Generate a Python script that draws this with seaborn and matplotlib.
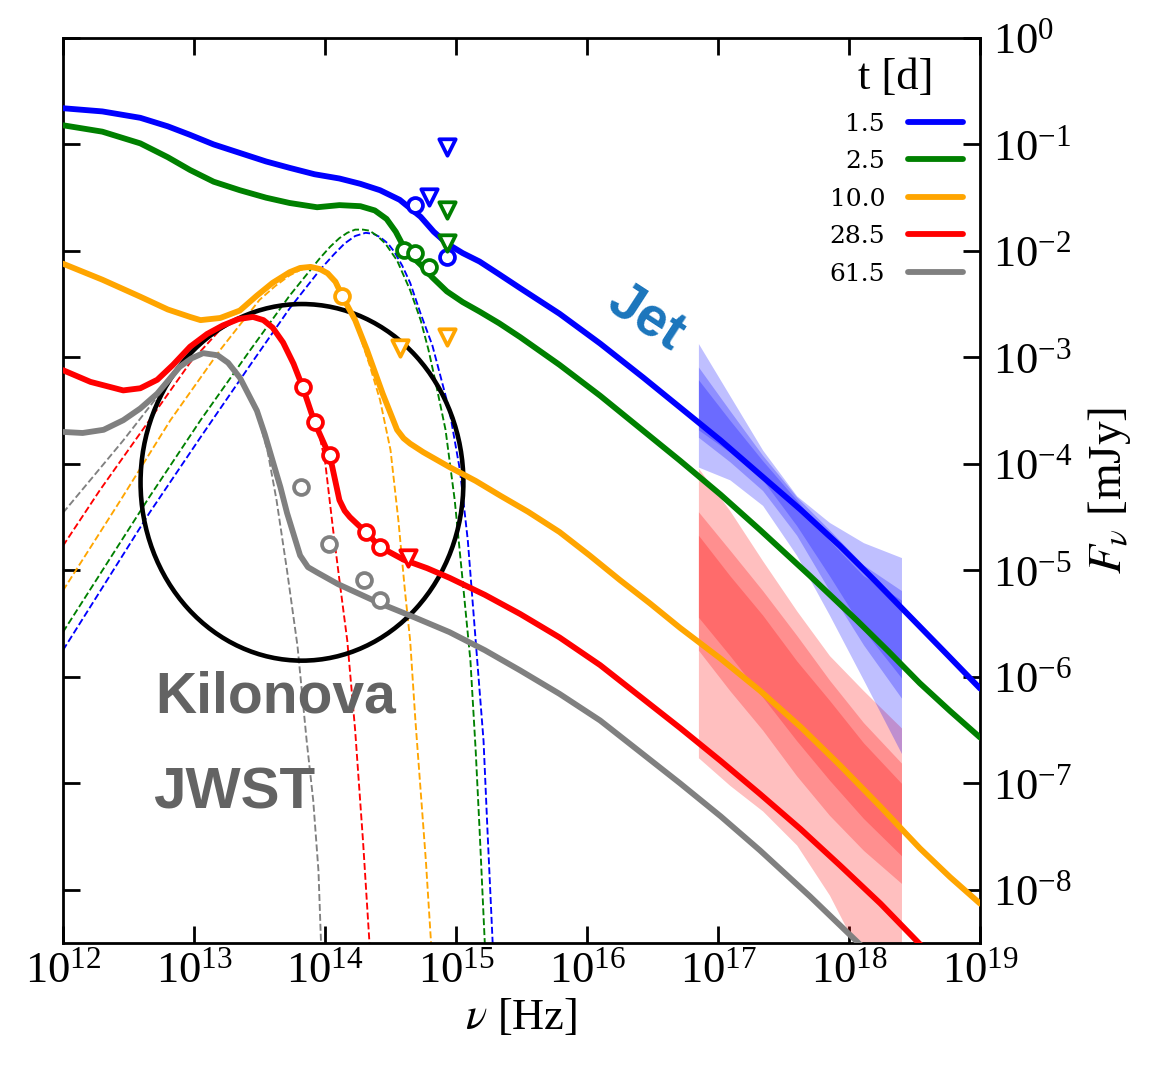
import numpy as np
import matplotlib
matplotlib.use("Agg")
import matplotlib.pyplot as plt
import seaborn as sns
from matplotlib.patches import Ellipse
from matplotlib.lines import Line2D
from matplotlib.ticker import FixedLocator, LogFormatterMathtext, NullLocator

sns.set_theme(style="ticks")
plt.rcParams["font.family"] = ["Liberation Serif", "DejaVu Serif"]
plt.rcParams["mathtext.fontset"] = "stix"
for key in ["text.color", "axes.labelcolor", "xtick.color", "ytick.color", "axes.edgecolor"]:
    plt.rcParams[key] = "black"

EPOCHS = ["1.5", "2.5", "10.0", "28.5", "61.5"]
COLORS = ["blue", "green", "orange", "red", "grey"]

# ---- total model (afterglow + kilonova): log10(nu/Hz), log10(F/mJy) ----
LNU_T15 = [12.00, 12.30, 12.59, 12.80, 12.97, 13.15, 13.35, 13.55, 13.73, 13.92, 14.11, 14.27, 14.42, 14.57, 14.65, 14.73,
           14.83, 14.93, 15.05, 15.18, 15.33, 15.49, 15.79, 16.10, 16.43, 16.71, 17.02, 17.32, 17.63, 17.93, 18.20, 18.47, 18.74, 19.00]
LF_T15 = [-0.66, -0.69, -0.75, -0.83, -0.91, -1.00, -1.08, -1.16, -1.22, -1.28, -1.32, -1.37, -1.43, -1.52, -1.60, -1.68,
          -1.82, -1.93, -2.02, -2.10, -2.22, -2.35, -2.59, -2.87, -3.19, -3.47, -3.78, -4.10, -4.43, -4.77, -5.10, -5.44, -5.78, -6.11]

LNU_T25 = [12.00, 12.30, 12.59, 12.80, 12.97, 13.15, 13.35, 13.55, 13.73, 13.94, 14.11, 14.27, 14.38, 14.47, 14.54, 14.60, 14.67, 14.73,
           14.82, 14.93, 15.05, 15.18, 15.33, 15.49, 15.79, 16.10, 16.40, 16.71, 17.02, 17.32, 17.70, 18.06, 18.30, 18.54, 18.77, 19.00]
LF_T25 = [-0.82, -0.88, -0.99, -1.12, -1.24, -1.35, -1.43, -1.50, -1.55, -1.59, -1.57, -1.58, -1.62, -1.70, -1.82, -1.96, -2.06, -2.13,
          -2.25, -2.38, -2.48, -2.57, -2.68, -2.81, -3.07, -3.36, -3.66, -3.97, -4.29, -4.62, -5.05, -5.47, -5.76, -6.06, -6.32, -6.57]

LNU_T100 = [12.00, 12.30, 12.59, 12.80, 12.97, 13.05, 13.20, 13.35, 13.48, 13.60, 13.73, 13.81, 13.89, 13.96, 14.02, 14.08, 14.13,
            14.23, 14.32, 14.44, 14.55, 14.60, 14.65, 14.75, 14.95, 15.15, 15.34, 15.55, 15.79, 16.02, 16.25, 16.48, 16.71, 17.02,
            17.32, 17.63, 17.93, 18.24, 18.54, 18.77, 19.00]
LF_T100 = [-2.12, -2.27, -2.43, -2.55, -2.62, -2.65, -2.63, -2.56, -2.42, -2.30, -2.20, -2.16, -2.15, -2.17, -2.21, -2.29, -2.42,
           -2.65, -2.93, -3.34, -3.68, -3.76, -3.81, -3.89, -4.03, -4.16, -4.30, -4.45, -4.64, -4.86, -5.09, -5.31, -5.54, -5.83,
           -6.13, -6.47, -6.83, -7.22, -7.61, -7.88, -8.13]

LNU_T285 = [12.00, 12.21, 12.46, 12.59, 12.72, 12.84, 12.97, 13.10, 13.22, 13.34, 13.45, 13.53, 13.60, 13.68, 13.76, 13.83, 13.92,
            14.04, 14.11, 14.15, 14.19, 14.31, 14.42, 14.60, 14.78, 14.95, 15.22, 15.49, 15.79, 16.10, 16.40, 16.71, 17.02, 17.32,
            17.63, 17.93, 18.24, 18.54, 18.77]
LF_T285 = [-3.12, -3.23, -3.31, -3.29, -3.21, -3.07, -2.90, -2.78, -2.70, -2.64, -2.62, -2.65, -2.72, -2.86, -3.06, -3.28, -3.61,
           -3.94, -4.34, -4.44, -4.50, -4.64, -4.78, -4.90, -4.98, -5.07, -5.23, -5.41, -5.63, -5.89, -6.18, -6.48, -6.79, -7.10,
           -7.43, -7.77, -8.13, -8.51, -8.76]

LNU_T615 = [12.00, 12.15, 12.31, 12.46, 12.59, 12.72, 12.89, 12.98, 13.07, 13.18, 13.26, 13.35, 13.48, 13.54, 13.60, 13.66, 13.71,
            13.81, 13.87, 13.94, 14.10, 14.26, 14.42, 14.68, 14.95, 15.22, 15.49, 15.79, 16.10, 16.40, 16.71, 17.02, 17.32, 17.70,
            18.08, 18.24]
LF_T615 = [-3.70, -3.71, -3.68, -3.59, -3.48, -3.34, -3.09, -3.01, -2.96, -2.98, -3.05, -3.19, -3.50, -3.72, -3.97, -4.22, -4.46,
           -4.86, -4.97, -5.02, -5.13, -5.22, -5.31, -5.44, -5.58, -5.75, -5.94, -6.16, -6.41, -6.70, -7.00, -7.31, -7.63, -8.06,
           -8.51, -8.67]

# ---- kilonova component (dashed) ----
LNU_KN15 = [12.00, 12.66, 13.05, 13.43, 13.73, 13.96, 14.07, 14.15, 14.23, 14.31, 14.37, 14.42, 14.48, 14.53, 14.59, 14.65, 14.73,
            14.82, 14.88, 14.95, 15.03, 15.09, 15.15, 15.21, 15.24, 15.28, 15.31]
LF_KN15 = [-5.75, -4.46, -3.75, -3.07, -2.54, -2.18, -2.03, -1.93, -1.86, -1.83, -1.84, -1.87, -1.93, -2.01, -2.14, -2.30, -2.59,
           -2.89, -3.17, -3.50, -4.06, -4.72, -5.66, -6.60, -7.44, -8.51, -9.04]

LNU_KN25 = [12.00, 12.66, 13.05, 13.43, 13.73, 13.96, 14.04, 14.11, 14.17, 14.23, 14.29, 14.34, 14.40, 14.46, 14.55, 14.65, 14.73,
            14.79, 14.84, 14.92, 14.99, 15.05, 15.11, 15.15, 15.18, 15.22, 15.24]
LF_KN25 = [-5.58, -4.31, -3.59, -2.93, -2.42, -2.07, -1.96, -1.88, -1.83, -1.80, -1.80, -1.81, -1.86, -1.93, -2.09, -2.37, -2.65,
           -2.93, -3.21, -3.68, -4.34, -5.09, -5.85, -6.69, -7.44, -8.51, -9.04]

LNU_KN100 = [12.00, 12.44, 12.82, 13.20, 13.50, 13.62, 13.73, 13.81, 13.89, 13.96, 14.04, 14.10, 14.15, 14.24, 14.34, 14.42, 14.50,
             14.56, 14.61, 14.65, 14.69, 14.73, 14.77, 14.81, 14.82]
LF_KN100 = [-5.19, -4.34, -3.59, -2.93, -2.46, -2.33, -2.23, -2.18, -2.16, -2.18, -2.23, -2.31, -2.43, -2.70, -3.07, -3.40, -3.87,
            -4.53, -5.19, -5.66, -6.41, -7.07, -7.73, -8.51, -9.04]

LNU_KN285 = [12.00, 12.28, 12.66, 12.97, 13.20, 13.30, 13.39, 13.49, 13.56, 13.62, 13.69, 13.76, 13.85, 13.94, 14.00, 14.06, 14.11,
             14.17, 14.23, 14.29, 14.34, 14.36]
LF_KN285 = [-4.77, -4.25, -3.59, -3.05, -2.74, -2.67, -2.63, -2.63, -2.67, -2.74, -2.88, -3.07, -3.33, -3.64, -3.97, -4.60, -5.09,
            -5.66, -6.50, -7.54, -8.51, -9.04]

LNU_KN615 = [12.00, 12.21, 12.46, 12.72, 12.89, 12.98, 13.07, 13.18, 13.26, 13.35, 13.48, 13.56, 13.63, 13.71, 13.79, 13.86, 13.91,
             13.95, 13.97, 13.98]
LF_KN615 = [-4.46, -4.15, -3.78, -3.37, -3.09, -3.01, -2.96, -2.99, -3.06, -3.20, -3.52, -3.87, -4.34, -5.00, -5.71, -6.60, -7.16,
            -7.82, -8.51, -9.04]

# ---- photometry: detections (circles) and upper limits (triangles) ----
DET_NU_15 = [14.69, 14.93]
DET_F_15 = [-1.57, -2.06]
UL_NU_15 = [14.79, 14.93]
UL_F_15 = [-1.49, -1.02]

DET_NU_25 = [14.60, 14.69, 14.79]
DET_F_25 = [-1.99, -2.02, -2.15]
UL_NU_25 = [14.93, 14.93]
UL_F_25 = [-1.62, -1.93]

DET_NU_100 = [14.13]
DET_F_100 = [-2.42]
UL_NU_100 = [14.57, 14.93]
UL_F_100 = [-2.91, -2.81]

DET_NU_285 = [13.83, 13.92, 14.04, 14.31, 14.42]
DET_F_285 = [-3.28, -3.61, -3.92, -4.64, -4.78]
UL_NU_285 = [14.63]
UL_F_285 = [-4.88]

DET_NU_615 = [13.82, 14.03, 14.30, 14.42]
DET_F_615 = [-4.22, -4.75, -5.09, -5.28]
UL_NU_615 = []
UL_F_615 = []

# ---- X-ray confidence bands ----
BAND_LNU = [16.85, 17.09, 17.34, 17.60, 17.85, 18.11, 18.40]
XB_OUT_HI = [-2.87, -3.36, -3.87, -4.30, -4.55, -4.74, -4.88]
XB_OUT_LO = [-4.03, -4.15, -4.39, -4.86, -5.42, -6.03, -6.72]
XB_MID_HI = [-3.09, -3.50, -3.92, -4.31, -4.62, -4.95, -5.19]
XB_MID_LO = [-3.75, -3.98, -4.25, -4.67, -5.19, -5.70, -6.20]
XB_IN_HI = [-3.21, -3.59, -3.97, -4.34, -4.72, -5.05, -5.28]
XB_IN_LO = [-3.68, -3.89, -4.15, -4.58, -5.05, -5.56, -6.01]

XR_OUT_HI = [-4.04, -4.44, -4.91, -5.38, -5.80, -6.13, -6.48]
XR_OUT_LO = [-6.76, -7.02, -7.26, -7.58, -8.05, -8.67, -9.04]
XR_MID_HI = [-4.45, -4.81, -5.19, -5.61, -6.03, -6.43, -6.81]
XR_MID_LO = [-5.75, -6.13, -6.50, -6.93, -7.30, -7.63, -7.94]
XR_IN_HI = [-4.67, -5.05, -5.42, -5.85, -6.22, -6.62, -7.00]
XR_IN_LO = [-5.44, -5.80, -6.19, -6.60, -6.97, -7.33, -7.68]

XTICK_EXP = [12, 13, 14, 15, 16, 17, 18, 19]
YTICK_EXP = [0, -1, -2, -3, -4, -5, -6, -7, -8]


def p(v):
    return np.power(10.0, np.asarray(v, dtype=float))


fig = plt.figure(figsize=(11.49, 10.72), dpi=100)
ax = fig.add_axes([0.0548, 0.1203, 0.853 - 0.0548, 0.9646 - 0.1203])
ax.set_xscale("log")
ax.set_yscale("log")

# bands
bx = p(BAND_LNU)
for lo, hi in [(XR_OUT_LO, XR_OUT_HI), (XR_MID_LO, XR_MID_HI), (XR_IN_LO, XR_IN_HI)]:
    ax.fill_between(bx, p(lo), p(hi), color="red", alpha=0.25, lw=0, zorder=1)
for lo, hi in [(XB_OUT_LO, XB_OUT_HI), (XB_MID_LO, XB_MID_HI), (XB_IN_LO, XB_IN_HI)]:
    ax.fill_between(bx, p(lo), p(hi), color="blue", alpha=0.25, lw=0, zorder=1)

kn = [(LNU_KN15, LF_KN15), (LNU_KN25, LF_KN25), (LNU_KN100, LF_KN100),
      (LNU_KN285, LF_KN285), (LNU_KN615, LF_KN615)]
tot = [(LNU_T15, LF_T15), (LNU_T25, LF_T25), (LNU_T100, LF_T100),
       (LNU_T285, LF_T285), (LNU_T615, LF_T615)]
det = [(DET_NU_15, DET_F_15), (DET_NU_25, DET_F_25), (DET_NU_100, DET_F_100),
       (DET_NU_285, DET_F_285), (DET_NU_615, DET_F_615)]
ul = [(UL_NU_15, UL_F_15), (UL_NU_25, UL_F_25), (UL_NU_100, UL_F_100),
      (UL_NU_285, UL_F_285), (UL_NU_615, UL_F_615)]

for (lnu, lf), c in zip(kn, COLORS):
    sns.lineplot(x=p(lnu), y=p(lf), ax=ax, color=c, lw=1.35, ls="--",
                 sort=False, estimator=None, zorder=2)

ell = Ellipse((0.2606, 0.509), 0.352, 0.394, transform=ax.transAxes,
              fill=False, ec="black", lw=3.3, zorder=3)
ax.add_patch(ell)

for (lnu, lf), c in zip(tot, COLORS):
    sns.lineplot(x=p(lnu), y=p(lf), ax=ax, color=c, lw=4.2,
                 sort=False, estimator=None, zorder=4)
for ln in ax.get_lines():
    ln.set_solid_joinstyle("round")

for (lnu, lf), c in zip(det, COLORS):
    if len(lnu):
        sns.scatterplot(x=p(lnu), y=p(lf), ax=ax, marker="o", s=115,
                        facecolor="white", edgecolor=c, linewidth=2.7, zorder=5)
for (lnu, lf), c in zip(ul, COLORS):
    if len(lnu):
        sns.scatterplot(x=p(lnu), y=p(lf), ax=ax, marker="v", s=140,
                        facecolor="white", edgecolor=c, linewidth=2.7, zorder=5)

ax.set_xlim(1e12, 1e19)
ax.set_ylim(10 ** -8.5, 1.0)

ax.xaxis.set_major_locator(FixedLocator(p(XTICK_EXP)))
ax.yaxis.set_major_locator(FixedLocator(p(YTICK_EXP)))
ax.xaxis.set_major_formatter(LogFormatterMathtext())
ax.yaxis.set_major_formatter(LogFormatterMathtext())
ax.xaxis.set_minor_locator(NullLocator())
ax.yaxis.set_minor_locator(NullLocator())
ax.yaxis.tick_right()
ax.yaxis.set_label_position("right")
ax.tick_params(which="major", direction="in", length=12, width=2,
               top=True, bottom=True, left=True, right=True,
               labelleft=False, labelright=True, labelsize=32, colors="black")
ax.tick_params(axis="x", pad=6)
ax.tick_params(axis="y", pad=9)
for s in ax.spines.values():
    s.set_linewidth(2)
    s.set_color("black")

ax.set_xlabel(r"$\nu$ [Hz]", fontsize=32, labelpad=4, color="black")
ax.set_ylabel(r"$F_\nu$ [mJy]", fontsize=34, labelpad=10, color="black")

ax.text(0.635, 0.691, "Jet", transform=ax.transAxes, rotation=-33,
        ha="center", va="center", fontsize=40, fontweight="bold",
        family="Liberation Sans", color="#1b75bc", zorder=6)
ax.text(0.1003, 0.2552, "Kilonova", transform=ax.transAxes, ha="left",
        va="baseline", fontsize=41, fontweight="bold", family="Liberation Sans",
        color="#636363", zorder=6)
ax.text(0.098, 0.149, "JWST", transform=ax.transAxes, ha="left",
        va="baseline", fontsize=42, fontweight="bold", family="Liberation Sans",
        color="#636363", zorder=6)

handles = [Line2D([], [], color=c, lw=4.2) for c in COLORS]
leg = ax.legend(handles, EPOCHS, loc="upper right", bbox_to_anchor=(1.0, 0.997),
                frameon=False, markerfirst=False, handlelength=2.2,
                labelspacing=0.58, handletextpad=0.9, borderaxespad=0.3,
                prop={"family": "DejaVu Serif", "size": 18},
                title="t [d]", title_fontproperties={"family": "Liberation Serif", "size": 32})
for t in leg.get_texts():
    t.set_color("black")
leg.get_title().set_color("black")

fig.savefig("out.png", dpi=100)
